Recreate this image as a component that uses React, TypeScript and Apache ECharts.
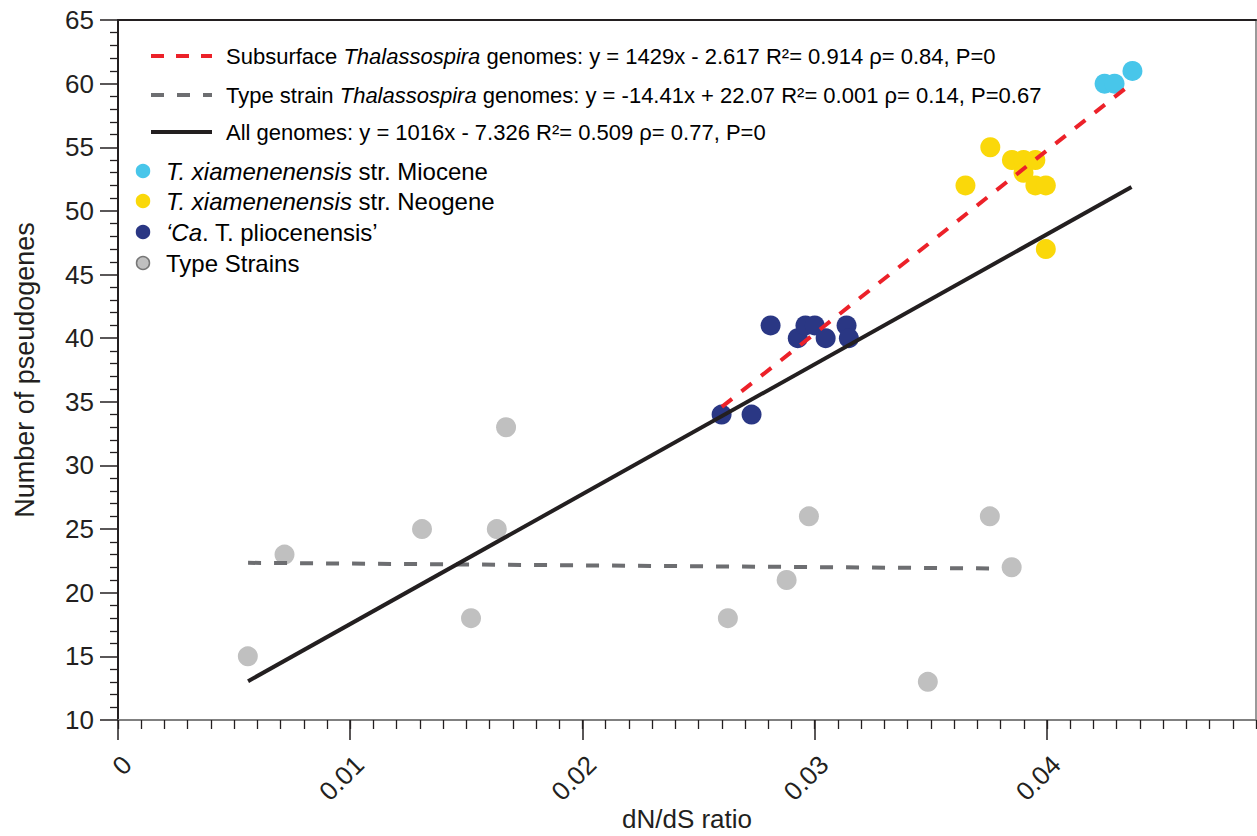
import React, { useEffect, useRef } from "react";
import * as echarts from "echarts";

// ---- Data ----
const typeStrainX = [0.00559, 0.00717, 0.01309, 0.0152, 0.01631, 0.01671, 0.02626, 0.02879, 0.02975, 0.03487, 0.03754, 0.03848];
const typeStrainY = [15, 23, 25, 18, 25, 33, 18, 21, 26, 13, 26, 22];

const pliocenensisX = [0.02599, 0.02728, 0.0281, 0.02927, 0.0296, 0.03, 0.03047, 0.03137, 0.03147];
const pliocenensisY = [34, 34, 41, 40, 41, 41, 40, 41, 40];

const neogeneX = [0.03649, 0.03756, 0.03849, 0.03899, 0.0395, 0.03899, 0.0395, 0.03995, 0.03995];
const neogeneY = [52, 55, 54, 54, 54, 53, 52, 52, 47];

const mioceneX = [0.04248, 0.04291, 0.04368];
const mioceneY = [60, 60, 61];

// regression line end points (x, y)
const subsurfaceFitX = [0.026, 0.0435];
const subsurfaceFitY = [34.6, 59.8];
const typeFitX = [0.0056, 0.038];
const typeFitY = [22.35, 21.9];
const allFitX = [0.0056, 0.04364];
const allFitY = [13.05, 51.88];

const xMajorTicks = [0, 0.01, 0.02, 0.03, 0.04];
const xTickLabels = ["0", "0.01", "0.02", "0.03", "0.04"];
const xMin = 0;
const xMax = 0.049;
const xMinorStep = 0.001;
const yMin = 10;
const yMax = 65;
const yInterval = 5;

const legendLineTexts = [
  "{n|Subsurface }{i|Thalassospira}{n| genomes: y = 1429x - 2.617 R²= 0.914 ρ= 0.84, P=0}",
  "{n|Type strain }{i|Thalassospira}{n| genomes: y = -14.41x + 22.07 R²= 0.001 ρ= 0.14, P=0.67}",
  "{n|All genomes: y = 1016x - 7.326 R²= 0.509 ρ= 0.77, P=0}",
];
const legendDotTexts = [
  "{i|T. xiamenenensis}{n| str. Miocene}",
  "{i|T. xiamenenensis}{n| str. Neogene}",
  "{i|‘Ca}{n|. T. pliocenensis’}",
  "{n|Type Strains}",
];

const COLORS = {
  type: "#c0c0c0",
  navy: "#2a3784",
  yellow: "#fad80a",
  cyan: "#48c6ea",
  red: "#ec2129",
  gray: "#6d6e71",
  black: "#231f20",
};

const FONT = "'Liberation Sans', Arial, Helvetica, sans-serif";

const zip = (xs: number[], ys: number[]) => xs.map((x, i) => [x, ys[i]]);

export default function App() {
  const ref = useRef<HTMLDivElement>(null);

  useEffect(() => {
    if (!ref.current) return;
    const chart = echarts.init(ref.current, undefined, { renderer: "svg" });

    const minorTicks: number[] = [];
    const nMinor = Math.round((xMax - xMin) / xMinorStep);
    for (let i = 0; i <= nMinor; i++) minorTicks.push(+(xMin + i * xMinorStep).toFixed(4));

    const richFor = (size: number) => ({
      n: { fontSize: size, fontFamily: FONT, color: COLORS.black },
      i: { fontSize: size, fontFamily: FONT, color: COLORS.black, fontStyle: "italic" },
    });

    const lineLegend = [
      { color: COLORS.red, dash: [13, 12] as number[] | null, y: 56 },
      { color: COLORS.gray, dash: [13, 13] as number[] | null, y: 95 },
      { color: COLORS.black, dash: null, y: 132 },
    ];
    const dotLegend = [
      { color: COLORS.cyan, stroke: COLORS.cyan, y: 171 },
      { color: COLORS.yellow, stroke: COLORS.yellow, y: 201 },
      { color: COLORS.navy, stroke: COLORS.navy, y: 232 },
      { color: COLORS.type, stroke: "#777777", y: 263 },
    ];

    const graphics: any[] = [];
    lineLegend.forEach((l, i) => {
      graphics.push({
        type: "line",
        shape: { x1: 151, y1: l.y, x2: 212, y2: l.y },
        style: { stroke: l.color, lineWidth: 4, lineDash: l.dash || undefined },
        z: 100,
      });
      graphics.push({
        type: "text",
        x: 226,
        y: l.y,
        style: { text: legendLineTexts[i], rich: richFor(22), verticalAlign: "middle", align: "left" },
        z: 100,
      });
    });
    dotLegend.forEach((d, i) => {
      graphics.push({
        type: "circle",
        shape: { cx: 143, cy: d.y, r: 6.5 },
        style: { fill: d.color, stroke: d.stroke, lineWidth: 1.5 },
        z: 100,
      });
      graphics.push({
        type: "text",
        x: 166,
        y: d.y,
        style: { text: legendDotTexts[i], rich: richFor(24), verticalAlign: "middle", align: "left" },
        z: 100,
      });
    });

    const scatterBase = {
      type: "scatter",
      symbol: "circle",
      symbolSize: 20,
      xAxisIndex: 0,
      yAxisIndex: 0,
      z: 2,
    };
    const lineBase = { type: "line", symbol: "none", xAxisIndex: 0, yAxisIndex: 0, z: 5, silent: true };

    const option: any = {
      animation: false,
      textStyle: { fontFamily: FONT },
      grid: { left: 118, right: 1, top: 20, bottom: 116, containLabel: false, outerBoundsMode: "none" },
      xAxis: [
        {
          type: "value",
          min: xMin,
          max: xMax,
          position: "bottom",
          axisLine: { show: true, onZero: false, lineStyle: { color: "#808080", width: 2 } },
          axisTick: { show: true, customValues: xMajorTicks, length: 20, lineStyle: { color: COLORS.black, width: 1.5 } },
          axisLabel: {
            show: true,
            customValues: xMajorTicks,
            rotate: 45,
            margin: 31,
            verticalAlign: "top",
            fontSize: 26,
            color: COLORS.black,
            fontFamily: FONT,
            formatter: (v: number) => {
              const idx = xMajorTicks.findIndex((t) => Math.abs(t - v) < 1e-9);
              return idx >= 0 ? xTickLabels[idx] : "";
            },
          },
          splitLine: { show: false },
          name: "dN/dS ratio",
          nameLocation: "middle",
          nameGap: 86,
          nameMoveOverlap: false,
          nameTextStyle: { fontSize: 26, color: COLORS.black, fontFamily: FONT },
        },
        {
          type: "value",
          min: xMin,
          max: xMax,
          position: "bottom",
          axisLine: { show: false, onZero: false },
          axisTick: { show: true, customValues: minorTicks, length: 9, lineStyle: { color: COLORS.black, width: 1.3 } },
          axisLabel: { show: false },
          splitLine: { show: false },
        },
        {
          type: "value",
          min: xMin,
          max: xMax,
          position: "top",
          axisLine: { show: true, onZero: false, lineStyle: { color: COLORS.black, width: 2 } },
          axisTick: { show: false },
          axisLabel: { show: false },
          splitLine: { show: false },
        },
      ],
      yAxis: [
        {
          type: "value",
          min: yMin,
          max: yMax,
          interval: yInterval,
          position: "left",
          axisLine: { show: true, onZero: false, lineStyle: { color: COLORS.black, width: 2 } },
          axisTick: { show: true, length: 18, lineStyle: { color: COLORS.black, width: 1.5 } },
          minorTick: { show: true, splitNumber: 5, length: 8, lineStyle: { color: COLORS.black, width: 1.3 } },
          axisLabel: { show: true, margin: 24, fontSize: 26, color: COLORS.black, fontFamily: FONT },
          splitLine: { show: false },
          name: "Number of pseudogenes",
          nameLocation: "middle",
          nameGap: 80,
          nameMoveOverlap: false,
          nameTextStyle: { fontSize: 27, color: COLORS.black, fontFamily: FONT },
        },
        {
          type: "value",
          min: yMin,
          max: yMax,
          position: "right",
          axisLine: { show: true, onZero: false, lineStyle: { color: "#9a9a9a", width: 2 } },
          axisTick: { show: false },
          axisLabel: { show: false },
          splitLine: { show: false },
        },
      ],
      series: [
        { ...scatterBase, name: "Type Strains", data: zip(typeStrainX, typeStrainY), itemStyle: { color: COLORS.type, opacity: 1 } },
        { ...scatterBase, name: "Ca. T. pliocenensis", data: zip(pliocenensisX, pliocenensisY), itemStyle: { color: COLORS.navy, opacity: 1 } },
        { ...scatterBase, name: "T. xiamenenensis str. Neogene", data: zip(neogeneX, neogeneY), itemStyle: { color: COLORS.yellow, opacity: 1 } },
        { ...scatterBase, name: "T. xiamenenensis str. Miocene", data: zip(mioceneX, mioceneY), itemStyle: { color: COLORS.cyan, opacity: 1 } },
        { ...lineBase, name: "Type strain fit", data: zip(typeFitX, typeFitY), lineStyle: { color: COLORS.gray, width: 4, type: [13, 13] } },
        { ...lineBase, name: "All genomes fit", data: zip(allFitX, allFitY), lineStyle: { color: COLORS.black, width: 4, type: "solid" } },
        { ...lineBase, name: "Subsurface fit", data: zip(subsurfaceFitX, subsurfaceFitY), lineStyle: { color: COLORS.red, width: 4, type: [13, 12] } },
      ],
      graphic: graphics,
    };

    chart.setOption(option);
    return () => chart.dispose();
  }, []);

  return (
    <div
      ref={ref}
      style={{ position: "fixed", left: 0, top: 0, width: 1257, height: 836, background: "#ffffff" }}
    />
  );
}
